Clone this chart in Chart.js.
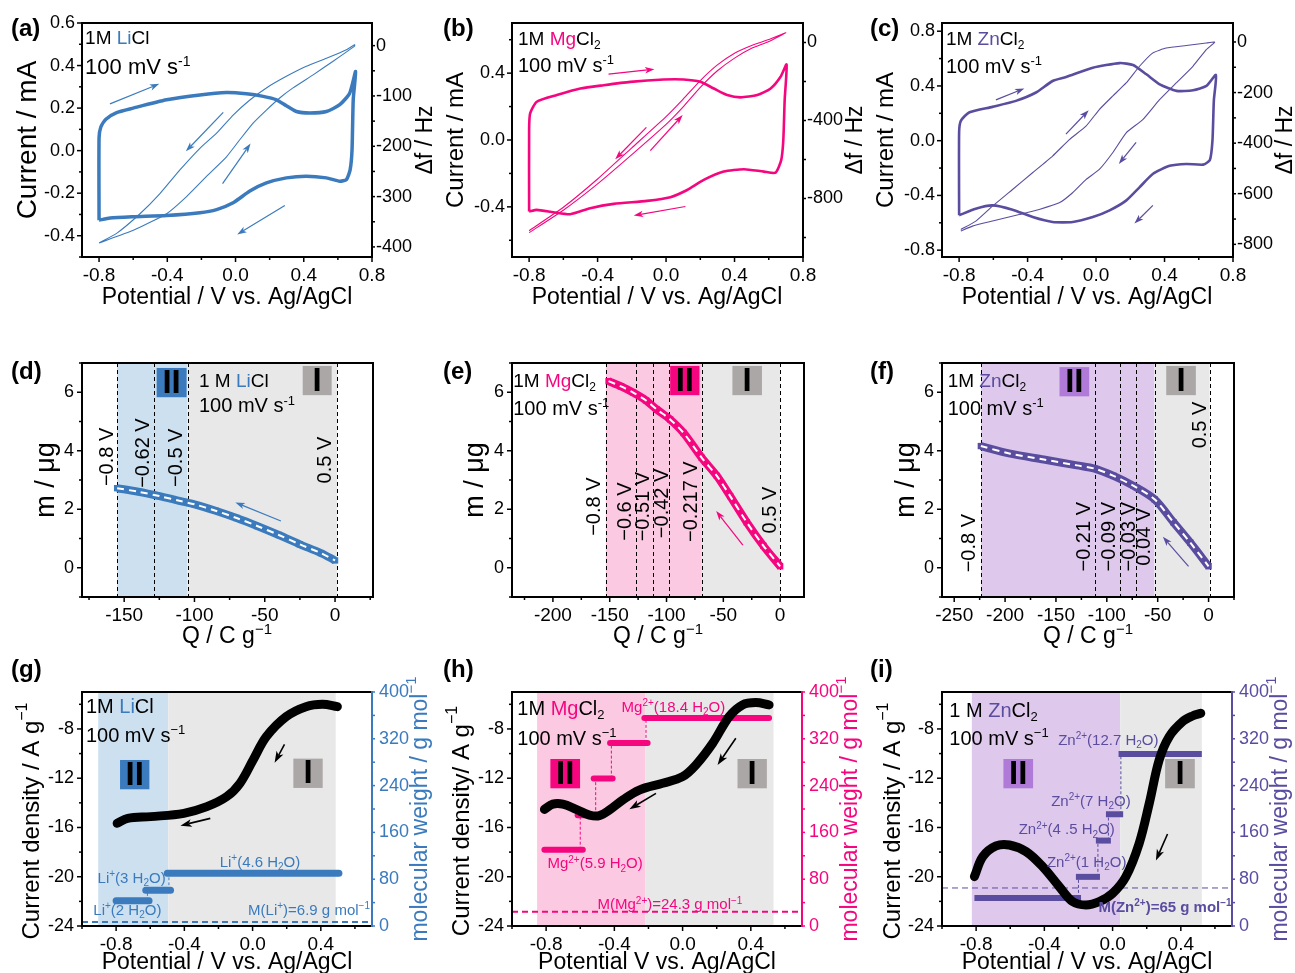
<!DOCTYPE html>
<html>
<head>
<meta charset="utf-8">
<script src="https://cdn.jsdelivr.net/npm/chart.js@4.4.1/dist/chart.umd.min.js"></script>
<style>
  html, body { margin: 0; background: #fff; overflow: hidden; }
  #wrap { position: relative; width: 1295px; height: 973px; }
  canvas { position: absolute; left: 0; top: 0; }
</style>
</head>
<body>
<div id="wrap"></div>
<script>
const W = 1295, H = 973;
const FONT = '"Liberation Sans", Arial, sans-serif';
const LI = '#3b7bbd', MG = '#f5067f', ZN = '#5a4d9f';
const LI_LT = '#cde0f0', MG_LT = '#fcc9e2', ZN_LT = '#dec9ec', GRAY_LT = '#e8e8e8';
const ZN_BOX = '#b07ad9', GRAY_BOX = '#aba7a6';

// ---- row 1: CV (V, mA) and frequency shift (V, Hz) ----
const liCv = [[-0.8,-0.327],[-0.8,0.06],[-0.79,0.11],[-0.76,0.148],[-0.7,0.178],[-0.6,0.2],[-0.404,0.239],[-0.209,0.262],[-0.053,0.273],[0.064,0.267],[0.162,0.255],[0.24,0.239],[0.298,0.211],[0.357,0.184],[0.435,0.177],[0.533,0.184],[0.611,0.216],[0.669,0.27],[0.704,0.372],[0.69,0.24],[0.683,0.005],[0.672,-0.089],[0.65,-0.136],[0.611,-0.144],[0.533,-0.128],[0.415,-0.12],[0.298,-0.128],[0.181,-0.152],[0.084,-0.19],[-0.014,-0.245],[-0.111,-0.277],[-0.209,-0.292],[-0.404,-0.305],[-0.6,-0.311],[-0.736,-0.317],[-0.8,-0.327]];
const liDf = [[-0.8,-392],[-0.697,-373],[-0.56,-334],[-0.443,-294],[-0.326,-247],[-0.209,-204],[-0.111,-174],[-0.014,-138],[0.084,-108],[0.181,-84],[0.298,-61],[0.415,-41],[0.533,-25],[0.65,-8],[0.698,2],[0.698,-1],[0.572,-31],[0.455,-58],[0.337,-84],[0.259,-104],[0.181,-128],[0.103,-154],[0.025,-187],[-0.053,-221],[-0.17,-260],[-0.287,-300],[-0.404,-334],[-0.599,-367],[-0.8,-392]];
const mgCv = [[-0.8,-0.428],[-0.8,0.06],[-0.794,0.159],[-0.755,0.229],[-0.638,0.269],[-0.501,0.308],[-0.365,0.328],[-0.209,0.348],[-0.014,0.362],[0.103,0.362],[0.2,0.348],[0.279,0.308],[0.357,0.269],[0.435,0.255],[0.533,0.269],[0.611,0.308],[0.669,0.378],[0.704,0.452],[0.693,0.239],[0.685,0.0],[0.673,-0.119],[0.64,-0.195],[0.572,-0.189],[0.455,-0.175],[0.337,-0.189],[0.22,-0.239],[0.123,-0.299],[0.025,-0.342],[-0.111,-0.364],[-0.306,-0.382],[-0.443,-0.408],[-0.56,-0.444],[-0.658,-0.432],[-0.755,-0.418],[-0.8,-0.428]];
const mgDf = [[-0.8,-975],[-0.6,-860],[-0.4,-725],[-0.2,-575],[0.0,-420],[0.1,-330],[0.2,-230],[0.3,-145],[0.4,-80],[0.5,-30],[0.6,5],[0.7,50],[0.6,15],[0.5,-15],[0.4,-55],[0.3,-115],[0.2,-195],[0.1,-290],[0.0,-380],[-0.2,-540],[-0.4,-700],[-0.6,-845],[-0.8,-965]];
const znCv = [[-0.8,-0.545],[-0.8,0.06],[-0.79,0.145],[-0.742,0.206],[-0.605,0.247],[-0.468,0.291],[-0.351,0.352],[-0.254,0.436],[-0.175,0.465],[-0.019,0.533],[0.138,0.567],[0.216,0.553],[0.294,0.485],[0.372,0.412],[0.47,0.364],[0.567,0.368],[0.645,0.4],[0.7,0.48],[0.688,0.291],[0.68,0.0],[0.665,-0.141],[0.626,-0.175],[0.528,-0.17],[0.43,-0.184],[0.333,-0.242],[0.255,-0.339],[0.177,-0.436],[0.079,-0.509],[-0.019,-0.558],[-0.136,-0.594],[-0.254,-0.594],[-0.37,-0.558],[-0.488,-0.504],[-0.605,-0.473],[-0.703,-0.497],[-0.8,-0.545]];
const znDf = [[-0.79,-741],[-0.702,-708],[-0.605,-649],[-0.488,-583],[-0.371,-517],[-0.254,-451],[-0.156,-386],[-0.059,-333],[0.019,-267],[0.097,-214],[0.176,-162],[0.254,-96],[0.332,-43],[0.41,-24],[0.527,-14],[0.644,-4],[0.693,-1],[0.644,-30],[0.566,-96],[0.468,-162],[0.371,-228],[0.273,-307],[0.176,-359],[0.097,-438],[0.019,-504],[-0.059,-544],[-0.137,-596],[-0.215,-636],[-0.332,-662],[-0.449,-682],[-0.605,-708],[-0.722,-728],[-0.79,-747]];

// ---- row 2: mass vs charge ----
const liQ = [-155,-140,-125,-110,-100,-85,-70,-55,-40,-25,-10,0];
const liM = [2.72,2.6,2.45,2.28,2.17,1.95,1.7,1.42,1.12,0.8,0.5,0.25];
const mgQ = [-151,-140,-129,-118,-108.5,-96.8,-85,-69,-55.7,-44,-29.3,-14.7,0];
const mgM = [6.38,6.2,5.98,5.72,5.41,5.07,4.61,3.76,3.14,2.45,1.55,0.75,0.05];
const znQ = [-223.8,-195,-162,-129.4,-112,-93.4,-73.7,-53.1,-34.4,-18,0];
const znM = [4.16,3.9,3.7,3.5,3.39,3.14,2.8,2.34,1.55,0.86,0.05];
const liCut = [-155,-128.7,-104.5,1.5];
const liCutLbl = ['−0.8 V','−0.62 V','−0.5 V','0.5 V'];
const mgCut = [-153.4,-127,-112,-97.4,-68.9,0];
const mgCutLbl = ['−0.8 V','−0.6 V','−0.51 V','−0.42 V','−0.217 V','0.5 V'];
const znCut = [-223.5,-112,-87.5,-71.8,-53.1,1];
const znCutLbl = ['−0.8 V','−0.21 V','−0.09 V','−0.03 V','0.04 V','0.5 V'];

// ---- row 3: current density and hydrated-ion molecular weight ----
const liV = [-0.794,-0.732,-0.597,-0.403,-0.268,-0.152,-0.074,0.003,0.081,0.197,0.313,0.41,0.497];
const liJ = [-15.66,-15.26,-15.12,-14.85,-14.31,-13.5,-12.41,-10.52,-8.62,-7.0,-6.19,-6.0,-6.19];
const mgV = [-0.81,-0.761,-0.702,-0.624,-0.546,-0.488,-0.429,-0.351,-0.254,-0.117,0.0,0.078,0.176,0.273,0.351,0.429,0.507];
const mgJ = [-14.53,-14.1,-14.1,-14.53,-14.99,-15.04,-14.58,-13.77,-12.96,-12.41,-11.87,-10.92,-9.17,-7.0,-6.05,-5.86,-6.05];
const znV = [-0.81,-0.761,-0.683,-0.605,-0.507,-0.41,-0.312,-0.234,-0.156,-0.078,0.0,0.078,0.156,0.215,0.273,0.332,0.41,0.468,0.517];
const znJ = [-19.99,-18.37,-17.5,-17.42,-17.96,-19.18,-20.81,-22.02,-22.29,-22.02,-21.35,-19.99,-17.29,-14.04,-10.52,-8.62,-7.41,-6.95,-6.73];
// [V start, V end, molecular weight]
const liSteps = [[-0.8,-0.607,43],[-0.626,-0.481,61],[-0.5,0.506,90]];
const mgSteps = [[-0.81,-0.585,130.5],[-0.615,-0.498,189.5],[-0.521,-0.41,252],[-0.425,-0.205,313],[-0.224,0.507,355.5]];
const znSteps = [[-0.81,-0.185,48],[-0.215,-0.074,84],[-0.098,-0.01,146],[-0.039,0.062,191],[0.035,0.523,294]];
const liIon = 6.9, mgIon = 24.3, znIon = 65;

// ---- tick labels ----
const cvVTicks = [-0.8,-0.4,0,0.4,0.8];
const liCurTicks = [-0.4,-0.2,0,0.2,0.4,0.6];
const mgCurTicks = [-0.4,0,0.4];
const znCurTicks = [-0.8,-0.4,0,0.4,0.8];
const liDfTicks = [0,-100,-200,-300,-400];
const mgDfTicks = [0,-400,-800];
const znDfTicks = [0,-200,-400,-600,-800];
const liQTicks = [-150,-100,-50,0];
const mgQTicks = [-200,-150,-100,-50,0];
const znQTicks = [-250,-200,-150,-100,-50,0];
const massTicks = [0,2,4,6];
const eqVTicks = [-0.8,-0.4,0,0.4];
const jTicks = [-24,-20,-16,-12,-8];
const mwTicks = [0,80,160,240,320,400];
const eqVMin = -1.0, eqVMax = 0.7;

const pts = arr => arr.map(([x, y]) => ({ x, y }));
const zip = (xs, ys) => xs.map((x, i) => ({ x, y: ys[i] }));

function cvSets(cv, df, color, w) {
  return [
    { data: pts(cv), borderColor: color, borderWidth: w, tension: 0.2, yAxisID: 'y' },
    { data: pts(df), borderColor: color, borderWidth: 1.1, tension: 0.15, yAxisID: 'y2' }
  ];
}
function massSets(q, m, color) {
  const d = zip(q, m);
  return [
    { data: d, borderColor: '#fff', borderWidth: 2, borderDash: [7, 5], tension: 0.3, yAxisID: 'y' },
    { data: d, borderColor: color, borderWidth: 8, tension: 0.3, pointStyle: 'rect', pointRadius: 4.5,
      pointBackgroundColor: color, pointBorderWidth: 0, yAxisID: 'y' }
  ];
}
function eqSets(v, j, steps, ion, color, barW, cap, ionW) {
  const sets = [{ data: zip(v, j), borderColor: '#000', borderWidth: 9, tension: 0.35, borderCapStyle: 'round', yAxisID: 'y' }];
  steps.forEach((s, i) => {
    sets.push({ data: [{ x: s[0], y: s[2] }, { x: s[1], y: s[2] }], borderColor: color, borderWidth: barW, borderCapStyle: cap, yAxisID: 'y2' });
    if (i > 0) {
      const p = steps[i - 1], cx = (p[1] + s[0]) / 2;
      sets.push({ data: [{ x: cx, y: p[2] }, { x: cx, y: s[2] }], borderColor: color, borderWidth: 1, borderDash: [3, 2], yAxisID: 'y2' });
    }
  });
  sets.push({ data: [{ x: eqVMin, y: ion }, { x: eqVMax, y: ion }], borderColor: color, borderWidth: ionW, borderDash: [6, 4], yAxisID: 'y2' });
  return sets;
}

// ---- rich text: ^{sup} _{sub} [highlight] ----
function richParts(s) {
  return s.split(/(\^\{[^}]*\}|_\{[^}]*\}|\[[^\]]*\])/).filter(t => t).map(t => {
    if (t.startsWith('^{')) return { t: t.slice(2, -1), k: 'sup' };
    if (t.startsWith('_{')) return { t: t.slice(2, -1), k: 'sub' };
    if (t[0] === '[') return { t: t.slice(1, -1), k: 'hl' };
    return { t, k: 'n' };
  });
}
function drawRich(ctx, s, x, y, o) {
  const size = o.size || 18, bold = o.bold ? 'bold ' : '';
  const parts = richParts(s);
  const fontOf = p => bold + ((p.k === 'sup' || p.k === 'sub') ? Math.round(size * 0.65) : size) + 'px ' + FONT;
  let total = 0;
  parts.forEach(p => { ctx.font = fontOf(p); p.w = ctx.measureText(p.t).width; total += p.w; });
  let cx = o.align === 'center' ? x - total / 2 : o.align === 'right' ? x - total : x;
  ctx.textAlign = 'left';
  ctx.textBaseline = o.base || 'alphabetic';
  parts.forEach(p => {
    ctx.font = fontOf(p);
    ctx.fillStyle = p.k === 'hl' ? o.hl : (o.color || '#000');
    const dy = p.k === 'sup' ? -size * 0.38 : p.k === 'sub' ? size * 0.22 : 0;
    ctx.fillText(p.t, cx, y + dy);
    cx += p.w;
  });
}
function textAt(ctx, s, x, y, o) {
  if (o.rot) {
    ctx.save(); ctx.translate(x, y); ctx.rotate(-Math.PI / 2);
    drawRich(ctx, s, 0, 0, Object.assign({ align: 'center', base: 'middle' }, o));
    ctx.restore();
  } else drawRich(ctx, s, x, y, o);
}
function arrow(ctx, x0, y0, x1, y1, color, lw, hl) {
  const ang = Math.atan2(y1 - y0, x1 - x0);
  ctx.strokeStyle = color; ctx.fillStyle = color; ctx.lineWidth = lw; ctx.setLineDash([]);
  ctx.beginPath(); ctx.moveTo(x0, y0);
  ctx.lineTo(x1 - hl * 0.7 * Math.cos(ang), y1 - hl * 0.7 * Math.sin(ang)); ctx.stroke();
  ctx.beginPath(); ctx.moveTo(x1, y1);
  ctx.lineTo(x1 - hl * Math.cos(ang - 0.33), y1 - hl * Math.sin(ang - 0.33));
  ctx.lineTo(x1 - hl * 0.7 * Math.cos(ang), y1 - hl * 0.7 * Math.sin(ang));
  ctx.lineTo(x1 - hl * Math.cos(ang + 0.33), y1 - hl * Math.sin(ang + 0.33));
  ctx.closePath(); ctx.fill();
}
function fmt(v, dec) {
  return Math.abs(v) < 1e-9 ? (0).toFixed(dec) : v.toFixed(dec);
}
function drawTicks(ctx, scale, ax, side, a, color) {
  ctx.strokeStyle = color; ctx.lineWidth = 1.5; ctx.setLineDash([]);
  for (let k = Math.ceil(ax.min / ax.minor - 1e-9); k * ax.minor <= ax.max + 1e-9; k++) {
    const v = k * ax.minor;
    const major = ax.major.some(m => Math.abs(m - v) < ax.minor * 0.01);
    const len = side === 'right' ? 3 : (major ? 5 : 3);
    const p = scale.getPixelForValue(v);
    ctx.beginPath();
    if (side === 'left') { ctx.moveTo(a.left, p); ctx.lineTo(a.left - len, p); }
    else if (side === 'right') { ctx.moveTo(a.right, p); ctx.lineTo(a.right + len, p); }
    else { ctx.moveTo(p, a.bottom); ctx.lineTo(p, a.bottom + len); }
    ctx.stroke();
  }
}

function decor(p) {
  return {
    id: 'decor',
    beforeDatasetsDraw(chart) {
      const ctx = chart.ctx, a = chart.chartArea, xs = chart.scales.x;
      ctx.save();
      (p.shades || []).forEach(s => {
        const x0 = xs.getPixelForValue(s[0]), x1 = xs.getPixelForValue(s[1]);
        ctx.fillStyle = s[2];
        ctx.fillRect(x0, a.top, x1 - x0, a.height);
      });
      ctx.strokeStyle = '#000'; ctx.lineWidth = 1; ctx.setLineDash([4, 3]);
      (p.vlines || []).forEach(v => {
        const x = Math.round(xs.getPixelForValue(v)) + 0.5;
        ctx.beginPath(); ctx.moveTo(x, a.top); ctx.lineTo(x, a.bottom); ctx.stroke();
      });
      ctx.restore();
    },
    afterDatasetsDraw(chart) {
      const ctx = chart.ctx, a = chart.chartArea, xs = chart.scales.x;
      const ys = id => chart.scales[id || 'y'];
      ctx.save();
      (p.boxes || []).forEach(b => {
        const x0 = xs.getPixelForValue(b[0]), x1 = xs.getPixelForValue(b[1]);
        const y0 = ys().getPixelForValue(b[2]), y1 = ys().getPixelForValue(b[3]);
        ctx.fillStyle = b[4];
        ctx.fillRect(x0, y1, x1 - x0, y0 - y1);
        ctx.fillStyle = '#000'; ctx.font = 'bold 33px ' + FONT;
        ctx.textAlign = 'center'; ctx.textBaseline = 'middle';
        ctx.fillText(b[5], (x0 + x1) / 2, (y0 + y1) / 2 + 1);
      });
      (p.arrows || []).forEach(r => {
        arrow(ctx, xs.getPixelForValue(r[0]), ys(p.arrowAxis).getPixelForValue(r[1]),
          xs.getPixelForValue(r[2]), ys(p.arrowAxis).getPixelForValue(r[3]),
          p.arrowColor || p.color, p.arrowW || 1.2, p.arrowHead || 10);
      });
      (p.texts || []).forEach(t => {
        textAt(ctx, t.s, xs.getPixelForValue(t.at[0]), ys(t.axis).getPixelForValue(t.at[1]),
          Object.assign({ hl: p.color }, t));
      });
      // frame
      ctx.setLineDash([]); ctx.lineWidth = 2; ctx.strokeStyle = '#000';
      ctx.beginPath();
      ctx.moveTo(a.right, a.top); ctx.lineTo(a.left, a.top); ctx.lineTo(a.left, a.bottom); ctx.lineTo(a.right, a.bottom);
      ctx.stroke();
      ctx.strokeStyle = (p.y2 && p.y2.color) || '#000';
      ctx.beginPath(); ctx.moveTo(a.right, a.top - 1); ctx.lineTo(a.right, a.bottom + 1); ctx.stroke();
      drawTicks(ctx, xs, p.x, 'bottom', a, '#000');
      drawTicks(ctx, ys('y'), p.y, 'left', a, '#000');
      if (p.y2) drawTicks(ctx, ys('y2'), p.y2, 'right', a, p.y2.color || '#000');
      (p.titles || []).forEach(t => textAt(ctx, t.s, t.at[0], t.at[1], Object.assign({ hl: p.color }, t)));
      ctx.restore();
    }
  };
}

function axisCfg(ax, pos, fit) {
  return {
    type: 'linear', position: pos, min: ax.min, max: ax.max,
    grid: { display: false, drawTicks: false }, border: { display: false },
    ticks: {
      font: { family: FONT, size: ax.fs || 18 }, color: ax.color || '#000', padding: ax.pad,
      autoSkip: false, maxRotation: 0, callback: v => fmt(v, ax.dec)
    },
    afterBuildTicks: s => { s.ticks = ax.major.map(v => ({ value: v })); },
    afterFit: fit
  };
}

function makeChart(p) {
  const cv = document.createElement('canvas');
  cv.width = W; cv.height = H;
  document.getElementById('wrap').appendChild(cv);
  const [L, T, R, B] = p.rect;
  const yw = 60, y2w = 50, xh = 40;
  const scales = {
    x: axisCfg(p.x, 'bottom', s => { s.height = xh; }),
    y: axisCfg(p.y, 'left', s => { s.width = yw; })
  };
  if (p.y2) scales.y2 = axisCfg(p.y2, 'right', s => { s.width = y2w; });
  new Chart(cv, {
    type: 'line',
    data: { datasets: p.sets },
    options: {
      responsive: false, animation: false, devicePixelRatio: 1,
      layout: { padding: { left: L - yw, top: T, right: W - R - (p.y2 ? y2w : 0), bottom: H - B - xh } },
      plugins: { legend: { display: false }, tooltip: { enabled: false } },
      elements: { point: { radius: 0 }, line: { fill: false } },
      scales
    },
    plugins: [decor(p)]
  });
}

// axis helpers
const cvX = { min: -0.9, max: 0.8, major: cvVTicks, minor: 0.2, dec: 1, fs: 19, pad: 7 };
const eqX = { min: eqVMin, max: eqVMax, major: eqVTicks, minor: 0.2, dec: 1, fs: 19, pad: 7 };
const massY = { min: -1, max: 7, major: massTicks, minor: 1, dec: 0, fs: 18, pad: 8 };
const jY = { min: -24, max: -5, major: jTicks, minor: 2, dec: 0, fs: 18, pad: 8 };
const mwY = c => ({ min: 0, max: 400, major: mwTicks, minor: 40, dec: 0, fs: 18, pad: 7, color: c });
const xTitle = (cx, y, s) => ({ s: s || 'Potential / V vs. Ag/AgCl', at: [cx, y], size: 23, align: 'center' });
const label = (s, x, y) => ({ s, at: [x, y], size: 24, bold: true, align: 'left' });
const cutTexts = (lbls, pos) => lbls.map((s, i) => ({ s, at: pos[i], size: 20, rot: true }));

// (a)
makeChart({
  rect: [82, 23, 372, 257], color: LI,
  x: cvX,
  y: { min: -0.5, max: 0.6, major: liCurTicks, minor: 0.1, dec: 1, fs: 18, pad: 7 },
  y2: { min: -420, max: 45, major: liDfTicks, minor: 50, dec: 0, fs: 18, pad: 4 },
  sets: cvSets(liCv, liDf, LI, 3.5),
  arrows: [[-0.736,0.22,-0.447,0.314],[-0.072,0.18,-0.291,-0.003],[-0.076,-0.155,0.088,0.033],[0.289,-0.258,0.01,-0.394]],
  texts: [
    { s: '1M [Li]Cl', at: [-0.882, 0.501], size: 19 },
    { s: '100 mV s^{-1}', at: [-0.882, 0.36], size: 22 }
  ],
  titles: [label('(a)', 11, 36), { s: 'Current / mA', at: [28, 140], size: 28, rot: true },
    { s: 'Δf / Hz', at: [426, 140], size: 23, rot: true }, xTitle(227, 304)]
});
// (b)
makeChart({
  rect: [512, 23, 803, 257], color: MG,
  x: cvX,
  y: { min: -0.7, max: 0.7, major: mgCurTicks, minor: 0.2, dec: 1, fs: 18, pad: 7 },
  y2: { min: -1100, max: 100, major: mgDfTicks, minor: 200, dec: 0, fs: 18, pad: 4 },
  sets: cvSets(mgCv, mgDf, MG, 2.6),
  arrows: [[-0.336,0.394,-0.068,0.424],[0.113,-0.398,-0.189,-0.452],[-0.115,0.076,-0.297,-0.115],[-0.092,-0.064,0.097,0.149]],
  texts: [
    { s: '1M [Mg]Cl_{2}', at: [-0.865, 0.568], size: 19 },
    { s: '100 mV s^{-1}', at: [-0.865, 0.407], size: 20 }
  ],
  titles: [label('(b)', 443, 36), { s: 'Current / mA', at: [456, 140], size: 24, rot: true },
    { s: 'Δf / Hz', at: [856, 140], size: 23, rot: true }, xTitle(657, 304)]
});
// (c)
makeChart({
  rect: [942, 23, 1233, 257], color: ZN,
  x: cvX,
  y: { min: -0.85, max: 0.86, major: znCurTicks, minor: 0.2, dec: 1, fs: 18, pad: 7 },
  y2: { min: -850, max: 75, major: znDfTicks, minor: 100, dec: 0, fs: 18, pad: 4 },
  sets: cvSets(znCv, znDf, ZN, 2.6),
  arrows: [[-0.585,0.298,-0.419,0.382],[-0.176,0.048,-0.043,0.223],[0.234,-0.012,0.133,-0.17],[0.332,-0.473,0.224,-0.606]],
  texts: [
    { s: '1M [Zn]Cl_{2}', at: [-0.877, 0.699], size: 19 },
    { s: '100 mV s^{-1}', at: [-0.877, 0.495], size: 20 }
  ],
  titles: [label('(c)', 870, 36), { s: 'Current / mA', at: [886, 140], size: 24, rot: true },
    { s: 'Δf / Hz', at: [1286, 140], size: 23, rot: true }, xTitle(1087, 304)]
});
// (d)
makeChart({
  rect: [82, 363, 373, 597], color: LI,
  x: { min: -180, max: 27, major: liQTicks, minor: 25, dec: 0, fs: 19, pad: 7 },
  y: massY,
  sets: massSets(liQ, liM, LI),
  shades: [[liCut[0], -105, LI_LT], [-105, liCut[3], GRAY_LT]],
  vlines: liCut,
  boxes: [[-126.9, -105.6, 5.83, 6.83, LI, 'II'], [-23, -2.4, 5.9, 6.9, GRAY_BOX, 'I']],
  arrows: [[-38.5, 1.6, -70.9, 2.23]],
  texts: [
    { s: '1 M [Li]Cl', at: [-96.8, 6.18], size: 19 },
    { s: '100 mV s^{-1}', at: [-96.8, 5.32], size: 20 }
  ].concat(cutTexts(liCutLbl, [[-162.2, 3.79], [-136.4, 3.92], [-112.6, 3.76], [-7.1, 3.68]])),
  titles: [label('(d)', 11, 379), { s: 'm / μg', at: [47, 480], size: 27, rot: true },
    { s: 'Q / C g^{−1}', at: [227, 643], size: 23, align: 'center' }]
});
// (e)
makeChart({
  rect: [512, 363, 804, 597], color: MG,
  x: { min: -236, max: 21, major: mgQTicks, minor: 25, dec: 0, fs: 19, pad: 7 },
  y: massY,
  sets: massSets(mgQ, mgM, MG),
  shades: [[mgCut[0], mgCut[4], MG_LT], [mgCut[4], mgCut[5], GRAY_LT]],
  vlines: mgCut,
  boxes: [[-96.8, -71, 5.9, 6.9, MG, 'II'], [-42, -16, 5.9, 6.9, GRAY_BOX, 'I']],
  arrows: [[-32.8, 0.77, -56.3, 1.94]],
  texts: [
    { s: '1M [Mg]Cl_{2}', at: [-234.9, 6.19], size: 19 },
    { s: '100 mV s^{-1}', at: [-234.9, 5.22], size: 20 }
  ].concat(cutTexts(mgCutLbl, [[-163, 2.09], [-136.5, 1.92], [-120.4, 2.09], [-103.7, 2.2], [-77.8, 2.26], [-8.9, 1.97]])),
  titles: [label('(e)', 443, 379), { s: 'm / μg', at: [476, 480], size: 27, rot: true },
    { s: 'Q / C g^{−1}', at: [658, 643], size: 23, align: 'center' }]
});
// (f)
makeChart({
  rect: [942, 363, 1234, 597], color: ZN,
  x: { min: -262, max: 25, major: znQTicks, minor: 25, dec: 0, fs: 19, pad: 7 },
  y: massY,
  sets: massSets(znQ, znM, ZN),
  shades: [[znCut[0], znCut[4], ZN_LT], [znCut[4], znCut[5], GRAY_LT]],
  vlines: znCut,
  boxes: [[-146.5, -117.3, 5.86, 6.86, ZN_BOX, 'II'], [-41.6, -12.5, 5.9, 6.9, GRAY_BOX, 'I']],
  arrows: [[-19.7, 0.05, -44.9, 1.06]],
  texts: [
    { s: '1M [Zn]Cl_{2}', at: [-256.4, 6.19], size: 19 },
    { s: '100 mV s^{-1}', at: [-256.4, 5.22], size: 20 }
  ].concat(cutTexts(znCutLbl, [[-234.5, 0.84], [-122.4, 1.06], [-96.9, 1.06], [-77.9, 1.06], [-62.5, 1.06], [-8.4, 4.88]])),
  titles: [label('(f)', 870, 379), { s: 'm / μg', at: [907, 480], size: 27, rot: true },
    { s: 'Q / C g^{−1}', at: [1088, 643], size: 23, align: 'center' }]
});
// (g)
makeChart({
  rect: [82, 692, 372, 926], color: LI,
  x: eqX, y: jY, y2: mwY(LI),
  sets: eqSets(liV, liJ, liSteps, liIon, LI, 7, 'round', 2),
  shades: [[-0.905, -0.494, LI_LT], [-0.494, 0.487, GRAY_LT]],
  boxes: [[-0.777, -0.605, -12.9, -10.52, LI, 'II'], [0.239, 0.411, -12.79, -10.41, GRAY_BOX, 'I']],
  arrowColor: '#000', arrowW: 1.6, arrowHead: 12,
  arrows: [[0.187, -9.25, 0.129, -10.74], [-0.248, -15.26, -0.423, -15.85]],
  texts: [
    { s: '1M [Li]Cl', at: [-0.977, -6.73], size: 20 },
    { s: '100 mV s^{−1}', at: [-0.977, -9.03], size: 20 },
    { s: 'Li^{+}(4.6 H_{2}O)', at: [0.043, 101.4], axis: 'y2', size: 15, align: 'center', color: LI },
    { s: 'Li^{+}(3 H_{2}O)', at: [-0.709, 74], axis: 'y2', size: 15, align: 'center', color: LI },
    { s: 'Li^{+}(2 H_{2}O)', at: [-0.734, 18.8], axis: 'y2', size: 15, align: 'center', color: LI },
    { s: 'M(Li^{+})=6.9 g mol^{−1}', at: [0.688, 18.8], axis: 'y2', size: 15, align: 'right', color: LI }
  ],
  titles: [label('(g)', 11, 677), { s: 'Current density / A g^{−1}', at: [32, 821], size: 24, rot: true },
    { s: 'molecular weight / g mol^{−1}', at: [421, 809], size: 23, rot: true, color: LI }, xTitle(227, 969)]
});
// (h)
makeChart({
  rect: [512, 692, 802, 926], color: MG,
  x: eqX, y: jY, y2: mwY(MG),
  sets: eqSets(mgV, mgJ, mgSteps, mgIon, MG, 6, 'round', 2),
  shades: [[-0.853, -0.219, MG_LT], [-0.219, 0.533, GRAY_LT]],
  boxes: [[-0.775, -0.601, -12.82, -10.44, MG, 'II'], [0.322, 0.494, -12.82, -10.44, GRAY_BOX, 'I']],
  arrowColor: '#000', arrowW: 1.6, arrowHead: 12,
  arrows: [[0.312, -8.76, 0.205, -10.92], [-0.156, -13.23, -0.312, -14.53]],
  texts: [
    { s: '1M [Mg]Cl_{2}', at: [-0.969, -6.87], size: 20 },
    { s: '100 mV s^{−1}', at: [-0.969, -9.3], size: 20 },
    { s: 'Mg^{2+}(18.4 H_{2}O)', at: [-0.054, 366.3], axis: 'y2', size: 15, align: 'center', color: MG },
    { s: 'Mg^{2+}(5.9 H_{2}O)', at: [-0.513, 98.6], axis: 'y2', size: 15, align: 'center', color: MG },
    { s: 'M(Mg^{2+})=24.3 g mol^{−1}', at: [-0.074, 28.6], axis: 'y2', size: 15, align: 'center', color: MG }
  ],
  titles: [label('(h)', 443, 677), { s: 'Current density/ A g^{−1}', at: [462, 821], size: 24, rot: true },
    { s: 'molecular weight / g mol^{−1}', at: [851, 809], size: 23, rot: true, color: MG },
    xTitle(657, 969, 'Potential V vs. Ag/AgCl')]
});
// (i)
makeChart({
  rect: [942, 692, 1232, 926], color: ZN,
  x: eqX, y: jY, y2: mwY(ZN),
  sets: eqSets(znV, znJ, znSteps, znIon, ZN, 6, 'butt', 1),
  shades: [[-0.825, 0.045, ZN_LT], [0.045, 0.523, GRAY_LT]],
  boxes: [[-0.64, -0.466, -12.82, -10.44, ZN_BOX, 'II'], [0.308, 0.482, -12.82, -10.44, GRAY_BOX, 'I']],
  arrowColor: '#000', arrowW: 1.6, arrowHead: 12,
  arrows: [[0.322, -16.53, 0.254, -18.69]],
  texts: [
    { s: '1 M [Zn]Cl_{2}', at: [-0.957, -7.0], size: 20 },
    { s: '100 mV s^{−1}', at: [-0.957, -9.3], size: 20 },
    { s: 'Zn^{2+}(12.7 H_{2}O)', at: [-0.025, 309.4], axis: 'y2', size: 15, align: 'center', color: ZN },
    { s: 'Zn^{2+}(7 H_{2}O)', at: [-0.127, 205.6], axis: 'y2', size: 15, align: 'center', color: ZN },
    { s: 'Zn^{2+}(4 .5 H_{2}O)', at: [-0.269, 156.6], axis: 'y2', size: 15, align: 'center', color: ZN },
    { s: 'Zn^{2+}(1 H_{2}O)', at: [-0.152, 101.4], axis: 'y2', size: 15, align: 'center', color: ZN },
    { s: 'M(Zn^{2+})=65 g mol^{−1}', at: [0.698, 24.5], axis: 'y2', size: 15, align: 'right', bold: true, color: ZN }
  ],
  titles: [label('(i)', 870, 677), { s: 'Current density / A g^{−1}', at: [893, 821], size: 24, rot: true },
    { s: 'molecular weight / g mol^{−1}', at: [1281, 809], size: 23, rot: true, color: ZN }, xTitle(1087, 969)]
});
</script>
</body>
</html>
